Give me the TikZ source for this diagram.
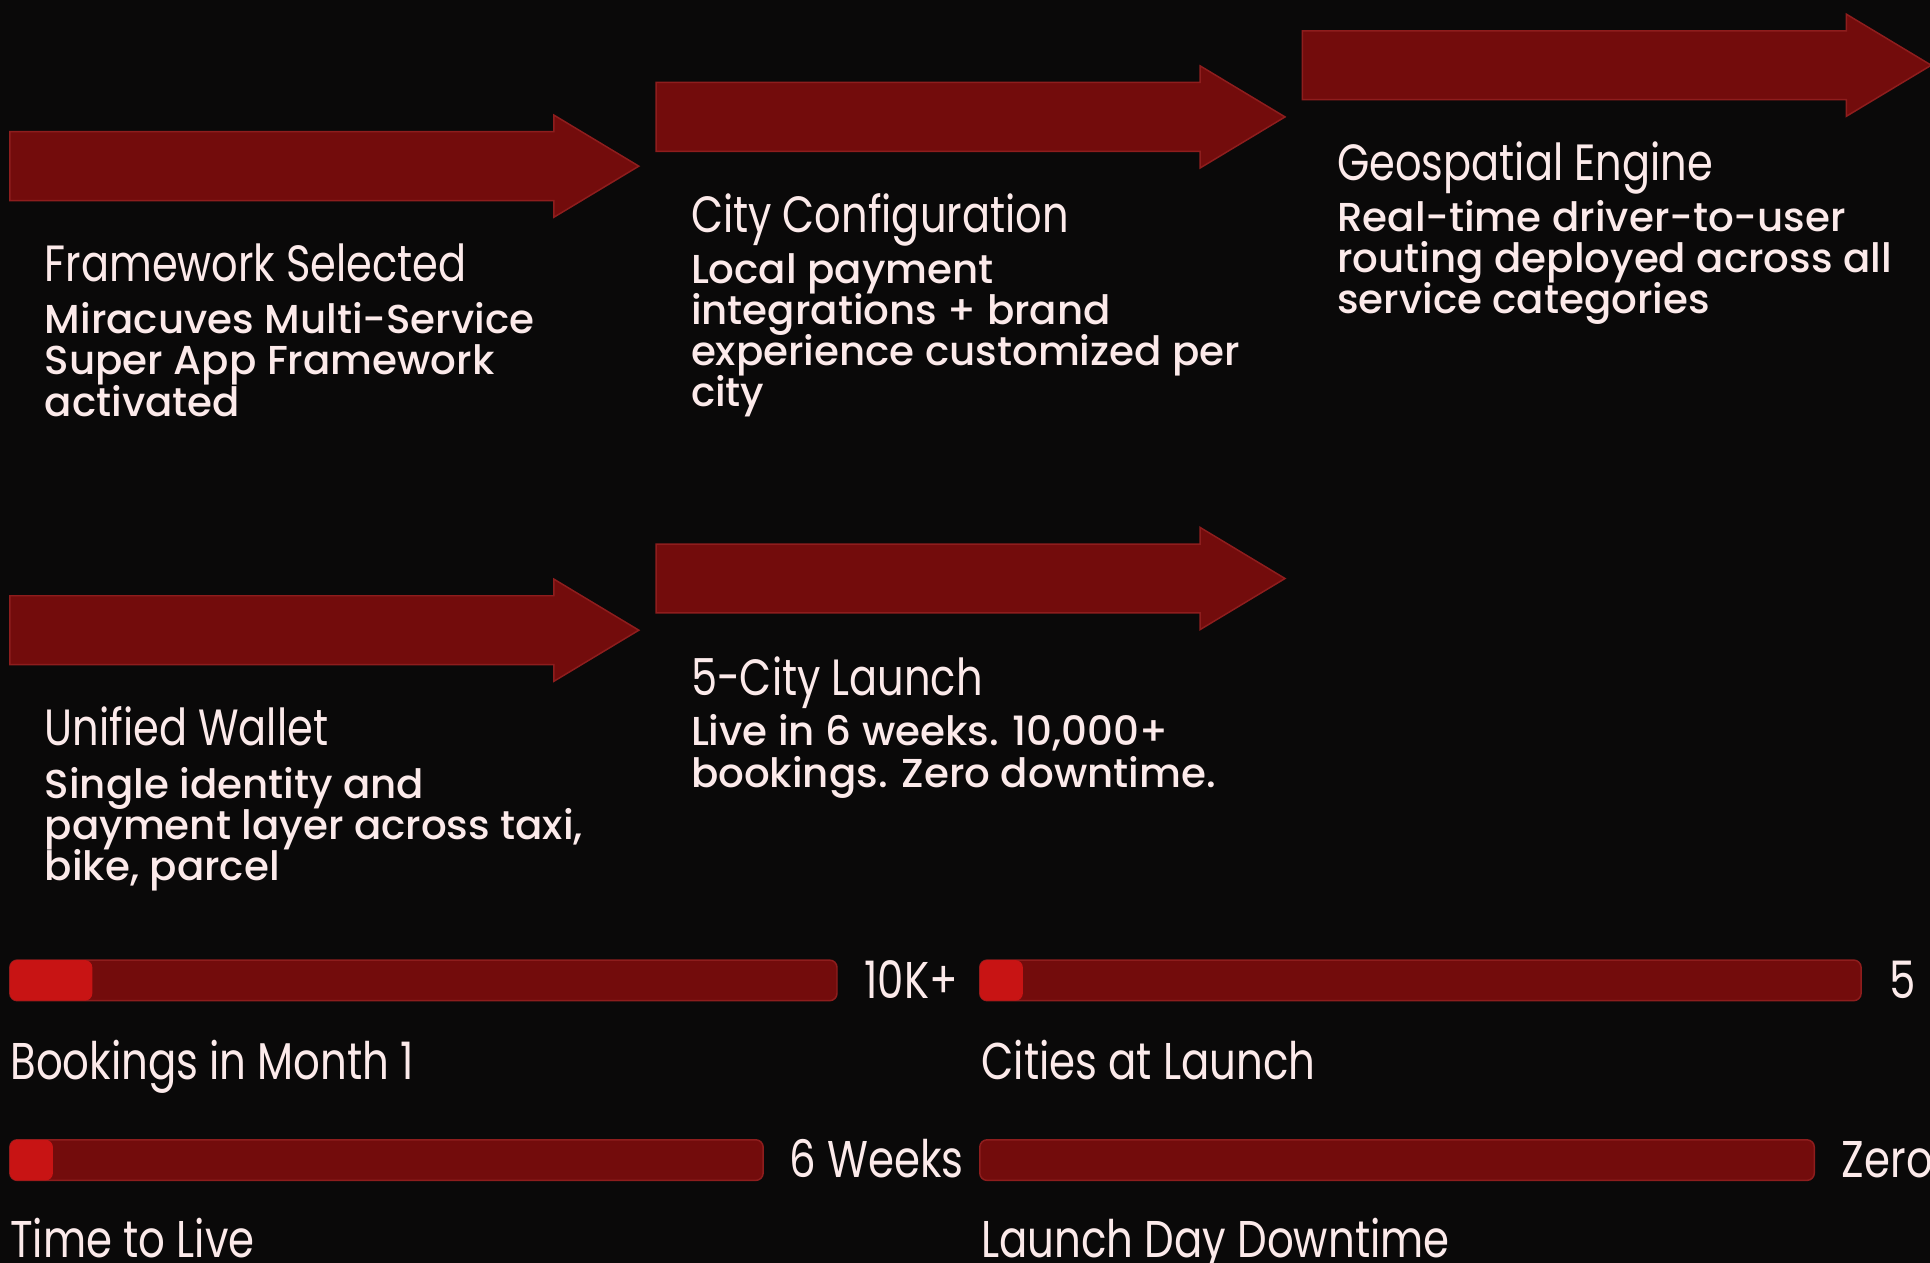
\documentclass[tikz,border=0pt]{standalone}
\usepackage{fontspec}
\newfontfamily\ttlfont{Poppins}[FakeStretch=0.815]
\newfontfamily\metfont{Poppins}[FakeStretch=0.81]
\newfontfamily\dscfont{Poppins Medium}
% keep multi-line descriptions on a fixed baseline grid
\setlength{\lineskiplimit}{-100pt}
\definecolor{bgdark}{HTML}{0A0909}
\definecolor{arrowred}{HTML}{730C0C}
\definecolor{arrowedge}{HTML}{8E1D1D}
\definecolor{barhot}{HTML}{C81414}
\definecolor{inkpale}{HTML}{FCEAEA}
\tikzset{
  phasearrow/.style={fill=arrowred, draw=arrowedge, line width=0.6pt, line join=miter},
  ttl/.style={anchor=base west, inner sep=0pt, text=inkpale,
    font=\ttlfont\fontsize{20.7}{24}\selectfont},
  % multi-line text: the base anchor sits on the last line
  dsc/.style={anchor=base west, inner sep=0pt, text=inkpale, align=left,
    font=\dscfont\fontsize{16.4}{16.75}\selectfont},
  track/.style={fill=arrowred, draw=arrowedge, line width=0.6pt, rounded corners=3pt},
  fillbar/.style={fill=barhot, rounded corners=3pt},
  metric/.style={anchor=base west, inner sep=0pt, text=inkpale,
    font=\metfont\fontsize{21}{24}\selectfont},
  pics/phase/.style={code={
    \path[phasearrow] (0,-28) -- (442,-28) -- (442,-41.5) -- (511,0)
      -- (442,41.5) -- (442,28) -- (0,28) -- cycle;
  }}
}
\begin{document}
\begin{tikzpicture}[x=0.5pt, y=-0.5pt]
\useasboundingbox (0,0) rectangle (1568,1026);
\fill[bgdark] (0,0) rectangle (1568,1026);
\clip (0,0) rectangle (1568,1026);

% timeline arrows
\pic at (8,135) {phase};
\pic at (533,95) {phase};
\pic at (1058,53) {phase};
\pic at (8,512) {phase};
\pic at (533,470) {phase};

% phase titles and descriptions
\node[ttl] (t1) at (36,229) {Framework Selected};
\node[dsc] (d1) at (36,338) {Miracuves Multi-Service\\Super App Framework\\activated};

\node[ttl] (t2) at (561,189) {City Configuration};
\node[dsc] (d2) at (561,330.5) {Local payment\\integrations + brand\\experience customized per\\city};

\node[ttl] (t3) at (1086,147) {Geospatial Engine};
\node[dsc] (d3) at (1086,255) {Real-time driver-to-user\\routing deployed across all\\service categories};

\node[ttl] (t4) at (36,606) {Unified Wallet};
\node[dsc] (d4) at (36,715.5) {Single identity and\\payment layer across taxi,\\bike, parcel};

\node[ttl] (t5) at (561,565) {5-City Launch};
\node[dsc] (d5) at (561,639.5) {Live in 6 weeks. 10,000+\\bookings. Zero downtime.};

% metric bars
\draw[track] (8,780) rectangle (680,813);
\fill[fillbar] (8,780) rectangle (75,813);
\node[metric] (v1) at (702,811) {10K+};
\node[metric] (m1) at (8,877) {Bookings in Month 1};

\draw[track] (796,780) rectangle (1512,813);
\fill[fillbar] (796,780) rectangle (831,813);
\node[metric] (v2) at (1535,811) {5};
\node[metric] (m2) at (797,877) {Cities at Launch};

\draw[track] (8,926) rectangle (620,959);
\fill[fillbar] (8,926) rectangle (43,959);
\node[metric] (v3) at (641,957) {6 Weeks};
\node[metric] (m3) at (8,1022) {Time to Live};

\draw[track] (796,926) rectangle (1474,959);
\node[metric] (v4) at (1496,957) {Zero};
\node[metric] (m4) at (797,1022) {Launch Day Downtime};
\end{tikzpicture}
\end{document}
